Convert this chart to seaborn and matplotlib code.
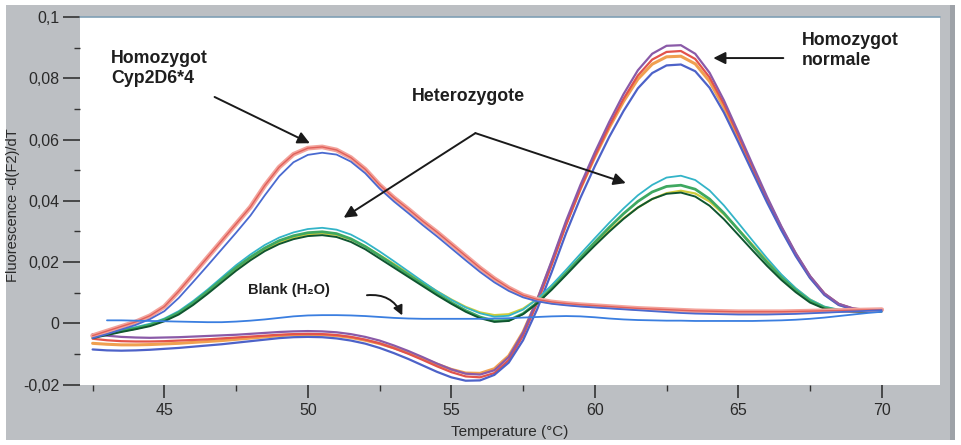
import matplotlib
matplotlib.use("Agg")
import matplotlib.pyplot as plt
from matplotlib.patches import Rectangle
import numpy as np
import pandas as pd
import seaborn as sns

WINDOW_GRAY = "#bcbfc3"
TEXT_COLOR = "#1e1e1e"

# temperature grid of the melting curves (deg C)
temperature = np.arange(42.5, 70.01, 0.5)

# Homozygot Cyp2D6*4
cyp_pink = [
    -0.0040, -0.0025, -0.0010, 0.0005, 0.0025, 0.0055, 0.0105, 0.0160, 0.0215, 0.0270,
    0.0325, 0.0380, 0.0450, 0.0510, 0.0552, 0.0572, 0.0576, 0.0566, 0.0541, 0.0503,
    0.0452, 0.0410, 0.0373, 0.0334, 0.0298, 0.0259, 0.0220, 0.0181, 0.0146, 0.0116,
    0.0092, 0.0078, 0.0070, 0.0065, 0.0061, 0.0058, 0.0055, 0.0052, 0.0049, 0.0047,
    0.0045, 0.0043, 0.0041, 0.0040, 0.0039, 0.0038, 0.0038, 0.0038, 0.0038, 0.0039,
    0.0040, 0.0041, 0.0042, 0.0043, 0.0044, 0.0045,
]
cyp_blue = [
    -0.0048, -0.0035, -0.0020, -0.0005, 0.0014, 0.0040, 0.0083, 0.0135, 0.0188, 0.0242,
    0.0296, 0.0352, 0.0418, 0.0480, 0.0526, 0.0550, 0.0557, 0.0551, 0.0528, 0.0490,
    0.0440, 0.0398, 0.0360, 0.0321, 0.0284, 0.0245, 0.0206, 0.0168, 0.0134, 0.0106,
    0.0085, 0.0072, 0.0064, 0.0059, 0.0055, 0.0052, 0.0049, 0.0046, 0.0043, 0.0040,
    0.0037, 0.0034, 0.0032, 0.0031, 0.0030, 0.0029, 0.0029, 0.0029, 0.0030, 0.0031,
    0.0033, 0.0035, 0.0037, 0.0039, 0.0041, 0.0043,
]

# Heterozygote
het_dark = [
    -0.0048, -0.0038, -0.0028, -0.0019, -0.0009, 0.0007, 0.0029, 0.0060, 0.0096, 0.0134,
    0.0172, 0.0206, 0.0236, 0.0259, 0.0275, 0.0285, 0.0288, 0.0282, 0.0266, 0.0242,
    0.0212, 0.0182, 0.0152, 0.0122, 0.0092, 0.0064, 0.0038, 0.0017, 0.0005, 0.0008,
    0.0030, 0.0066, 0.0110, 0.0158, 0.0207, 0.0254, 0.0299, 0.0341, 0.0378, 0.0406,
    0.0423, 0.0427, 0.0414, 0.0384, 0.0340, 0.0289, 0.0238, 0.0188, 0.0142, 0.0102,
    0.0068, 0.0048, 0.0040, 0.0037, 0.0037, 0.0039,
]
het_green = [
    -0.0044, -0.0034, -0.0024, -0.0016, -0.0005, 0.0012, 0.0035, 0.0067, 0.0104, 0.0143,
    0.0182, 0.0216, 0.0246, 0.0270, 0.0286, 0.0296, 0.0299, 0.0293, 0.0276, 0.0251,
    0.0221, 0.0190, 0.0159, 0.0128, 0.0097, 0.0068, 0.0042, 0.0021, 0.0008, 0.0010,
    0.0032, 0.0068, 0.0114, 0.0164, 0.0215, 0.0265, 0.0313, 0.0358, 0.0398, 0.0429,
    0.0447, 0.0451, 0.0438, 0.0406, 0.0360, 0.0306, 0.0252, 0.0199, 0.0150, 0.0108,
    0.0073, 0.0051, 0.0042, 0.0039, 0.0039, 0.0041,
]
het_cyan = [
    -0.0040, -0.0030, -0.0020, -0.0012, -0.0001, 0.0016, 0.0040, 0.0073, 0.0110, 0.0150,
    0.0190, 0.0225, 0.0256, 0.0280, 0.0297, 0.0308, 0.0312, 0.0306, 0.0290, 0.0265,
    0.0235, 0.0203, 0.0170, 0.0137, 0.0105, 0.0077, 0.0052, 0.0033, 0.0022, 0.0025,
    0.0045, 0.0080, 0.0125, 0.0175, 0.0227, 0.0278, 0.0328, 0.0375, 0.0418, 0.0452,
    0.0476, 0.0482, 0.0468, 0.0434, 0.0385, 0.0328, 0.0270, 0.0213, 0.0160, 0.0115,
    0.0078, 0.0055, 0.0045, 0.0041, 0.0041, 0.0043,
]
het_yellow = [
    -0.0046, -0.0036, -0.0026, -0.0017, -0.0006, 0.0010, 0.0033, 0.0064, 0.0100, 0.0139,
    0.0177, 0.0211, 0.0241, 0.0265, 0.0281, 0.0291, 0.0294, 0.0289, 0.0274, 0.0251,
    0.0223, 0.0194, 0.0164, 0.0134, 0.0105, 0.0078, 0.0054, 0.0036, 0.0027, 0.0030,
    0.0048, 0.0080, 0.0120, 0.0166, 0.0213, 0.0259, 0.0303, 0.0343, 0.0378, 0.0406,
    0.0425, 0.0433, 0.0424, 0.0398, 0.0356, 0.0307, 0.0256, 0.0205, 0.0157, 0.0114,
    0.0078, 0.0054, 0.0043, 0.0039, 0.0039, 0.0041,
]

# Homozygot normale
norm_purple = [
    -0.0035, -0.0040, -0.0044, -0.0046, -0.0047, -0.0046, -0.0045, -0.0043, -0.0041, -0.0039,
    -0.0037, -0.0034, -0.0031, -0.0028, -0.0026, -0.0025, -0.0026, -0.0029, -0.0035, -0.0044,
    -0.0056, -0.0072, -0.0090, -0.0110, -0.0131, -0.0150, -0.0164, -0.0167, -0.0153, -0.0110,
    -0.0030, 0.0080, 0.0205, 0.0335, 0.0452, 0.0558, 0.0657, 0.0748, 0.0826, 0.0880,
    0.0906, 0.0908, 0.0880, 0.0818, 0.0728, 0.0624, 0.0518, 0.0414, 0.0317, 0.0230,
    0.0155, 0.0098, 0.0064, 0.0049, 0.0044, 0.0045,
]
norm_red = [
    -0.0050, -0.0055, -0.0058, -0.0059, -0.0059, -0.0058, -0.0056, -0.0054, -0.0052, -0.0049,
    -0.0046, -0.0043, -0.0040, -0.0037, -0.0035, -0.0034, -0.0035, -0.0038, -0.0044, -0.0053,
    -0.0065, -0.0081, -0.0099, -0.0119, -0.0140, -0.0159, -0.0173, -0.0176, -0.0162, -0.0120,
    -0.0040, 0.0068, 0.0192, 0.0322, 0.0440, 0.0546, 0.0644, 0.0733, 0.0809, 0.0861,
    0.0886, 0.0889, 0.0863, 0.0803, 0.0716, 0.0614, 0.0510, 0.0408, 0.0313, 0.0227,
    0.0153, 0.0097, 0.0063, 0.0048, 0.0043, 0.0044,
]
norm_orange = [
    -0.0065, -0.0068, -0.0070, -0.0070, -0.0069, -0.0067, -0.0065, -0.0062, -0.0059, -0.0056,
    -0.0052, -0.0048, -0.0044, -0.0040, -0.0037, -0.0036, -0.0037, -0.0040, -0.0046, -0.0055,
    -0.0066, -0.0080, -0.0096, -0.0114, -0.0133, -0.0150, -0.0162, -0.0163, -0.0148, -0.0106,
    -0.0028, 0.0077, 0.0198, 0.0325, 0.0440, 0.0543, 0.0638, 0.0724, 0.0797, 0.0846,
    0.0870, 0.0872, 0.0847, 0.0790, 0.0705, 0.0606, 0.0504, 0.0404, 0.0311, 0.0226,
    0.0152, 0.0096, 0.0062, 0.0047, 0.0042, 0.0043,
]
norm_blue = [
    -0.0085, -0.0088, -0.0089, -0.0088, -0.0086, -0.0083, -0.0080, -0.0076, -0.0072, -0.0068,
    -0.0063, -0.0058, -0.0053, -0.0048, -0.0045, -0.0044, -0.0045, -0.0049, -0.0056, -0.0066,
    -0.0080, -0.0097, -0.0116, -0.0137, -0.0158, -0.0176, -0.0187, -0.0186, -0.0168, -0.0128,
    -0.0055, 0.0048, 0.0168, 0.0295, 0.0410, 0.0513, 0.0608, 0.0693, 0.0767, 0.0817,
    0.0842, 0.0845, 0.0823, 0.0769, 0.0688, 0.0592, 0.0493, 0.0395, 0.0304, 0.0220,
    0.0148, 0.0093, 0.0060, 0.0046, 0.0041, 0.0042,
]

# Blank (H2O)
blank = [
    np.nan, 0.0010, 0.0010, 0.0009, 0.0008, 0.0007, 0.0006, 0.0005, 0.0004, 0.0004,
    0.0006, 0.0009, 0.0013, 0.0018, 0.0023, 0.0026, 0.0027, 0.0027, 0.0026, 0.0024,
    0.0021, 0.0018, 0.0016, 0.0015, 0.0015, 0.0015, 0.0015, 0.0015, 0.0016, 0.0017,
    0.0019, 0.0021, 0.0023, 0.0024, 0.0023, 0.0020, 0.0016, 0.0013, 0.0011, 0.0010,
    0.0009, 0.0009, 0.0008, 0.0008, 0.0008, 0.0008, 0.0008, 0.0009, 0.0010, 0.0012,
    0.0015, 0.0019, 0.0024, 0.0029, 0.0034, 0.0038,
]

x_ticks = [45, 50, 55, 60, 65, 70]
y_ticks = [-0.02, 0.0, 0.02, 0.04, 0.06, 0.08, 0.1]
y_tick_labels = ["-0,02", "0", "0,02", "0,04", "0,06", "0,08", "0,1"]

# (name, values, colour, line width) in drawing order
curves = [
    ("norm_orange", norm_orange, "#f0a050", 2.2),
    ("norm_red", norm_red, "#e2534c", 1.6),
    ("norm_blue", norm_blue, "#4d62c8", 1.6),
    ("norm_purple", norm_purple, "#8a5aa8", 1.6),
    ("het_yellow", het_yellow, "#cfcc3c", 1.6),
    ("het_cyan", het_cyan, "#33b4c8", 1.3),
    ("het_green", het_green, "#3fa860", 2.0),
    ("het_dark", het_dark, "#0f5530", 1.4),
    ("cyp_pink", cyp_pink, "#f3a29a", 3.4),
    ("cyp_blue", cyp_blue, "#4a6ad0", 1.3),
    ("blank", blank, "#3a7ee0", 1.3),
]

sns.set_style("white")
plt.rcParams["font.family"] = ["Liberation Sans", "DejaVu Sans"]

fig = plt.figure(figsize=(9.61, 4.45), dpi=100)
fig.patch.set_facecolor("white")
fig.add_artist(Rectangle((6 / 961, 5 / 445), 949 / 961, 435 / 445,
                         transform=fig.transFigure, facecolor=WINDOW_GRAY,
                         edgecolor="none", zorder=0))
fig.add_artist(Rectangle((950 / 961, 5 / 445), 5 / 961, 435 / 445,
                         transform=fig.transFigure, facecolor="#9ea2a8",
                         edgecolor="none", zorder=0))

ax = fig.add_axes([80 / 961, 60 / 445, 860 / 961, 368 / 445])
ax.set_facecolor("white")

for name, values, color, lw in curves:
    df = pd.DataFrame({"Temperature": temperature, "Value": values}).dropna()
    sns.lineplot(data=df, x="Temperature", y="Value", color=color,
                 linewidth=lw, estimator=None, sort=False, ax=ax)
    if name == "cyp_pink":
        sns.lineplot(data=df, x="Temperature", y="Value", color="#e0605a",
                     linewidth=1.0, estimator=None, sort=False, ax=ax)

ax.set_xlim(42.06, 72.03)
ax.set_ylim(-0.0201, 0.1)
ax.set_xticks(x_ticks)
ax.set_xticklabels([str(t) for t in x_ticks])
ax.set_xticks([42.5, 47.5, 52.5, 57.5, 62.5, 67.5], minor=True)
ax.set_yticks(y_ticks)
ax.set_yticklabels(y_tick_labels)
ax.set_yticks([-0.01, 0.01, 0.03, 0.05, 0.07, 0.09], minor=True)

for side in ax.spines:
    ax.spines[side].set_visible(False)
ax.plot([0, 1], [1, 1], transform=ax.transAxes, color="#7f9fb5", lw=1.2,
        clip_on=False)

ax.tick_params(axis="both", which="major", direction="out", length=9,
               width=1.2, color="#333333", labelcolor="#2a2a2a", labelsize=11.5)
ax.tick_params(axis="both", which="minor", direction="out", length=4,
               width=1.0, color="#333333")
ax.tick_params(axis="y", which="major", length=12, pad=3)
ax.tick_params(axis="x", which="major", pad=4)
ax.tick_params(bottom=True, left=True, which="both")

ax.set_xlabel("Temperature (°C)", fontsize=11, color="#2a2a2a")
ax.set_ylabel("Fluorescence -d(F2)/dT", fontsize=10.5, color="#2a2a2a")
ax.xaxis.set_label_coords(0.5, -0.11)
ax.yaxis.set_label_coords(-0.07, 0.49)

text_kw = dict(fontsize=12.8, fontweight="bold", color=TEXT_COLOR)
arrow_kw = dict(arrowstyle="-|>", color="#1a1a1a", lw=1.4,
                mutation_scale=18, shrinkA=0, shrinkB=0)

ax.text(43.15, 0.0893, "Homozygot\nCyp2D6*4", ha="left", va="top",
        linespacing=1.25, **text_kw)
ax.annotate("", xy=(50.07, 0.0588), xytext=(46.75, 0.0739),
            arrowprops=arrow_kw)

ax.text(55.6, 0.0739, "Heterozygote", ha="center", va="center", **text_kw)
ax.annotate("", xy=(51.25, 0.0345), xytext=(55.84, 0.0621),
            arrowprops=arrow_kw)
ax.annotate("", xy=(61.08, 0.0458), xytext=(55.84, 0.0621),
            arrowprops=arrow_kw)

ax.text(47.9, 0.0108, "Blank (H₂O)", ha="left", va="center",
        fontsize=10.5, fontweight="bold", color=TEXT_COLOR)
ax.annotate("", xy=(53.29, 0.0026), xytext=(52.06, 0.0092),
            arrowprops=dict(arrow_kw, connectionstyle="arc3,rad=-0.35",
                            mutation_scale=14))

ax.text(67.2, 0.0952, "Homozygot\nnormale", ha="left", va="top",
        linespacing=1.25, **text_kw)
ax.annotate("", xy=(64.13, 0.0866), xytext=(66.57, 0.0866),
            arrowprops=arrow_kw)

fig.savefig("out.png", dpi=100, facecolor=fig.get_facecolor())
